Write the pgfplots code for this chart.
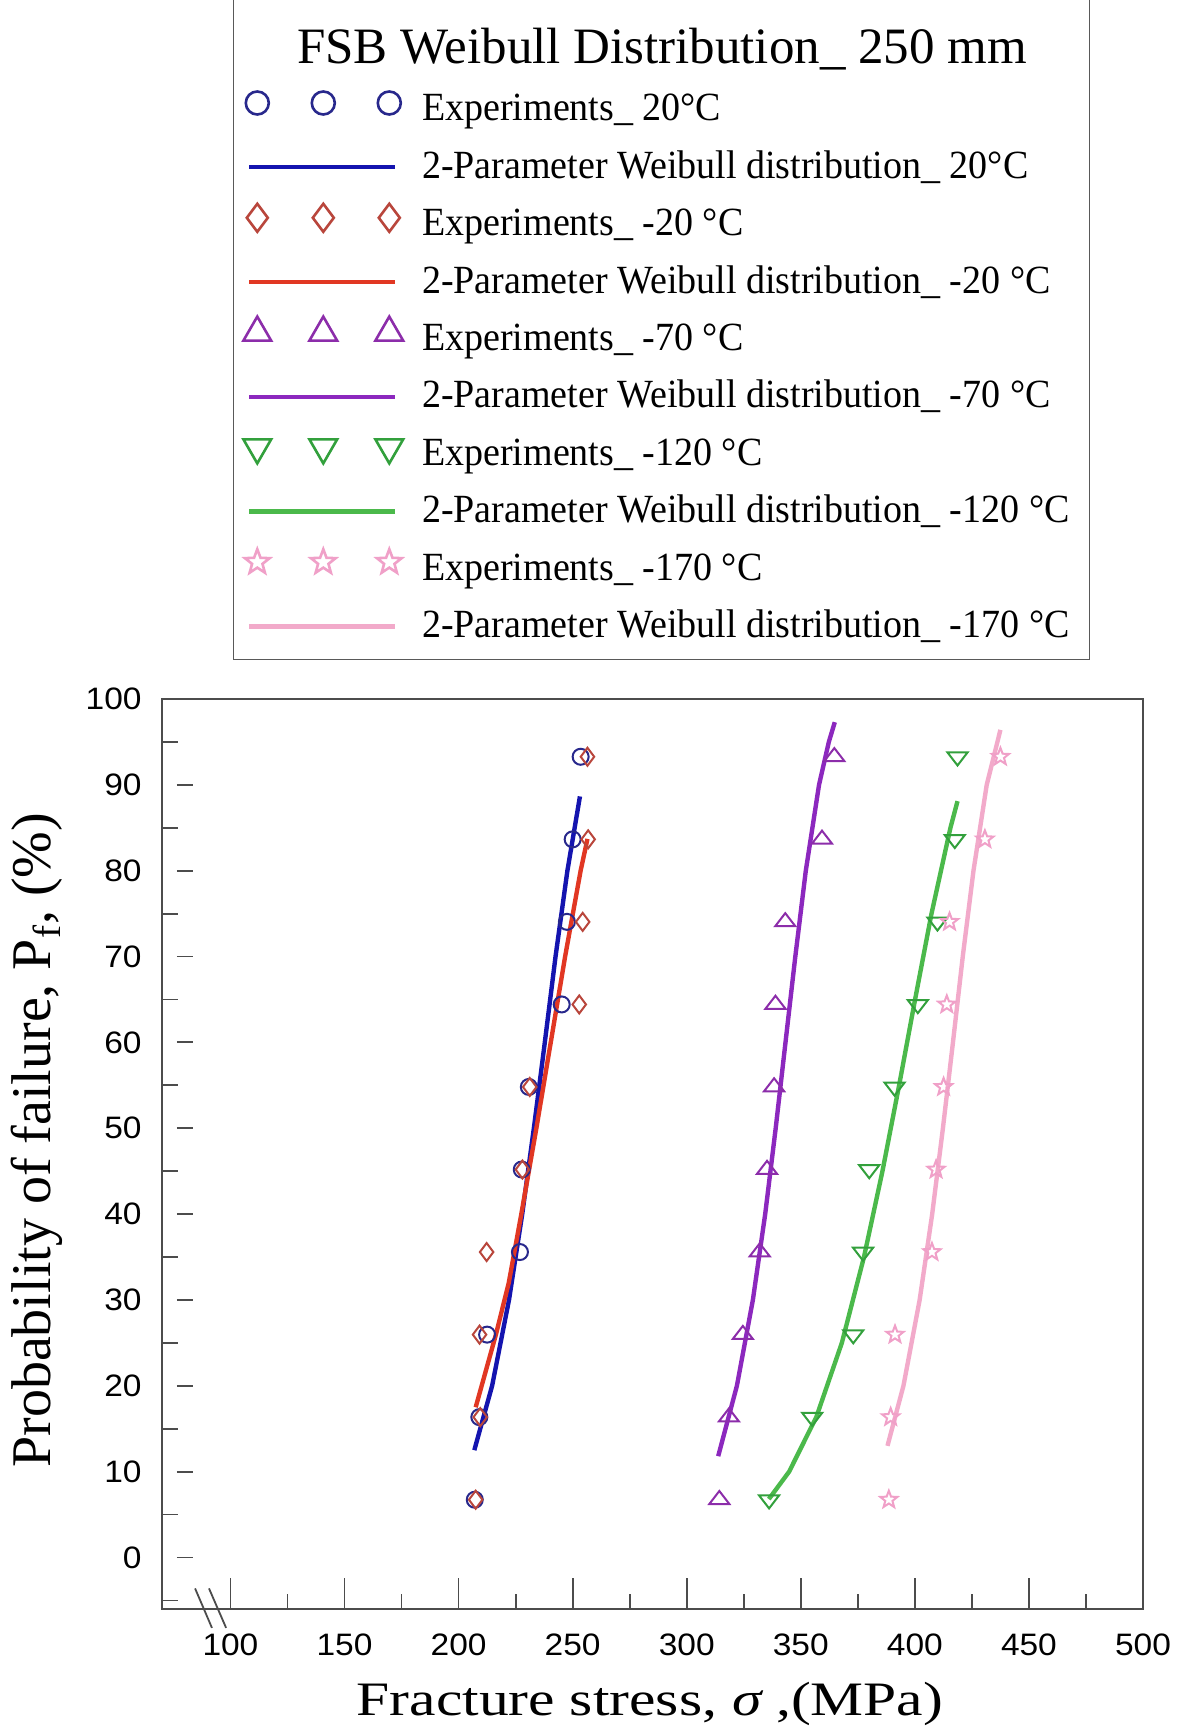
\documentclass[border=0pt]{standalone}
\usepackage{fontspec}
\setmainfont{Liberation Serif}
\newfontfamily\legfont[FakeStretch=0.95]{Liberation Serif}
\newfontfamily\tickfont[FakeStretch=1.08]{Liberation Sans}
\newfontfamily\xlabfont[FakeStretch=1.24]{Liberation Serif}
\usepackage{pgfplots}
\pgfplotsset{compat=1.18}
\definecolor{cA}{RGB}{40,40,140}
\definecolor{lA}{RGB}{20,20,175}
\definecolor{cB}{RGB}{185,70,60}
\definecolor{lB}{RGB}{225,55,35}
\definecolor{cC}{RGB}{140,45,170}
\definecolor{lC}{RGB}{140,40,190}
\definecolor{cD}{RGB}{50,160,60}
\definecolor{lD}{RGB}{75,185,75}
\definecolor{cE}{RGB}{240,160,200}
\definecolor{lE}{RGB}{242,170,202}
\newcommand\st{\rule{0pt}{20pt}}
\pgfdeclareplotmark{ostar}{%
  \pgfpathmoveto{\pgfpointpolar{90}{\pgfplotmarksize}}%
  \pgfpathlineto{\pgfpointpolar{126}{0.42\pgfplotmarksize}}%
  \pgfpathlineto{\pgfpointpolar{162}{\pgfplotmarksize}}%
  \pgfpathlineto{\pgfpointpolar{198}{0.42\pgfplotmarksize}}%
  \pgfpathlineto{\pgfpointpolar{234}{\pgfplotmarksize}}%
  \pgfpathlineto{\pgfpointpolar{270}{0.42\pgfplotmarksize}}%
  \pgfpathlineto{\pgfpointpolar{306}{\pgfplotmarksize}}%
  \pgfpathlineto{\pgfpointpolar{342}{0.42\pgfplotmarksize}}%
  \pgfpathlineto{\pgfpointpolar{18}{\pgfplotmarksize}}%
  \pgfpathlineto{\pgfpointpolar{54}{0.42\pgfplotmarksize}}%
  \pgfpathclose\pgfusepathqstroke}
\pgfplotsset{
  legmk/.style={legend image code/.code={\draw[##1,#1] plot coordinates {(4pt,1.5pt) (37pt,1.5pt) (70pt,1.5pt)};}},
  legln/.style={legend image code/.code={\draw[##1] (0pt,-1.9pt) -- (73pt,-1.9pt);}},
}
\begin{document}
\begin{tikzpicture}
\begin{axis}[
  at={(0,0)}, anchor=south west,
  scale only axis, width=490.5pt, height=455pt,
  xmin=70, xmax=500, ymin=-6, ymax=100,
  xtick={100,150,...,500}, minor xtick={125,175,...,475},
  ytick={0,10,...,100}, minor ytick={-5,5,...,95},
  tick pos=left, tick align=inside,
  major tick length=15.5pt, minor tick length=7.5pt,
  major y tick style={xshift=7.5pt, /pgfplots/major tick length=8pt},
  minor y tick style={/pgfplots/minor tick length=8pt},
  tick style={draw=black!70, line width=0.9pt},
  axis line style={draw=black!70, line width=0.9pt},
  /pgf/number format/assume math mode=true,
  xticklabel style={font=\tickfont\fontsize{15.5}{18}\selectfont, inner sep=0pt, yshift=-12pt},
  yticklabel style={font=\tickfont\fontsize{15.5}{18}\selectfont, inner sep=0pt, xshift=-10pt},
  xlabel={\xlabfont\fontsize{24}{28}\selectfont Fracture stress, {\itshape σ} ,(MPa)},
  xlabel style={at={(axis description cs:0.4975,-0.1165)}, anchor=base, inner sep=0pt},
  ylabel={\fontsize{28}{32}\selectfont Probability of failure, P\textsubscript{f}, (\%)},
  ylabel style={at={(axis description cs:-0.114,0.515)}, anchor=base, inner sep=0pt},
  clip=false,
  legend cell align=left,
  legend style={at={(axis description cs:0.0724,1)}, anchor=south west, yshift=19.5pt,
    draw=black!65, fill=white, inner xsep=5pt, inner ysep=6pt, row sep=3.7pt,
    nodes={inner sep=0pt, text depth=5pt, font=\legfont\fontsize{20}{24}\selectfont},
    /tikz/every odd column/.append style={column sep=9.5pt}},
]
\addlegendimage{empty legend}
\addlegendentry{\hspace*{-62.5pt}\rmfamily\fontsize{25.5}{30}\selectfont FSB Weibull Distribution\_ 250 mm\rule{0pt}{26.5pt}}

\addplot[only marks, mark=o, color=cA, mark size=4pt, line width=1pt, legmk={mark size=5.75pt, line width=1.3pt}]
 coordinates {(207.1,6.73) (209.1,16.35) (212.5,25.96) (226.9,35.58) (227.7,45.19) (230.8,54.81) (245.2,64.42) (247.5,74.04) (250.0,83.65) (253.5,93.27)};
\addlegendentry{Experiments\_ 20°C\st}
\addplot[no marks, color=lA, line width=2.2pt, legln]
 coordinates {(206.9,12.5) (214.7,20) (222.1,30) (227.9,40) (233.0,50) (237.8,60) (242.5,70) (247.7,80) (253.2,88.65)};
\addlegendentry{2-Parameter Weibull distribution\_ 20°C\st}

\addplot[only marks, mark=diamond, color=cB, mark size=4.5pt, line width=1pt, legmk={mark size=7pt, line width=1.3pt}]
 coordinates {(207.5,6.73) (209.5,16.35) (209.2,25.96) (212.3,35.58) (228.0,45.19) (231.2,54.81) (252.9,64.42) (254.4,74.04) (256.8,83.65) (256.5,93.27)};
\addlegendentry{Experiments\_ -20 °C\st}
\addplot[no marks, color=lB, line width=2.2pt, legln]
 coordinates {(207.5,17.5) (216.4,26) (222.0,32) (227.5,40) (234.1,50) (240.4,60) (246.7,70) (253.5,80) (256.5,83.7)};
\addlegendentry{2-Parameter Weibull distribution\_ -20 °C\st}

\addplot[only marks, mark=triangle, color=cC, mark size=5.8pt, line width=1pt, mark options={yscale=0.75}, legmk={mark size=8pt, line width=1.3pt, mark options={}}]
 coordinates {(314.3,6.73) (318.5,16.35) (324.6,25.96) (332.0,35.58) (335.2,45.19) (338.3,54.81) (338.9,64.42) (343.2,74.04) (359.3,83.65) (364.7,93.27)};
\addlegendentry{Experiments\_ -70 °C\st}
\addplot[no marks, color=lC, line width=2.2pt, legln]
 coordinates {(313.8,11.8) (322.0,20) (329.0,30) (334.4,40) (339.0,50) (343.3,60) (347.6,70) (352.2,80) (358.0,90) (362.3,95) (364.9,97.3)};
\addlegendentry{2-Parameter Weibull distribution\_ -70 °C\st}

\addplot[only marks, mark=triangle, color=cD, mark size=5.8pt, line width=1pt, mark options={rotate=180, yscale=0.75}, legmk={mark size=8pt, line width=1.3pt, mark options={rotate=180}}]
 coordinates {(336.1,6.73) (355.0,16.35) (373.0,25.96) (377.3,35.58) (380.0,45.19) (391.1,54.81) (401.3,64.42) (409.9,74.04) (417.5,83.65) (418.7,93.27)};
\addlegendentry{Experiments\_ -120 °C\st}
\addplot[no marks, color=lD, line width=2.2pt, legln]
 coordinates {(336.0,6.8) (344.9,10) (356.8,16.35) (368.0,25) (377.7,35) (385.8,45) (393.1,55) (400.1,65) (407.3,75) (415.6,85) (418.7,88.1)};
\addlegendentry{2-Parameter Weibull distribution\_ -120 °C\hspace*{5pt}\st}

\addplot[only marks, mark=ostar, color=cE, mark size=4.5pt, line width=1pt, legmk={mark size=6.5pt, line width=1.3pt}]
 coordinates {(388.6,6.73) (389.4,16.35) (391.3,25.96) (407.5,35.58) (409.3,45.19) (412.6,54.81) (414.0,64.42) (415.2,74.04) (430.7,83.65) (437.5,93.27)};
\addlegendentry{Experiments\_ -170 °C\st}
\addplot[no marks, color=lE, line width=2.2pt, legln]
 coordinates {(388.0,13) (395.0,20) (402.1,30) (407.6,40) (412.3,50) (416.7,60) (421.0,70) (425.7,80) (431.5,90) (437.5,96.4)};
\addlegendentry{2-Parameter Weibull distribution\_ -170 °C\hspace*{5pt}\st}

\draw[black!70, line width=0.9pt] (axis cs:84.5,-3.6) -- (axis cs:91.9,-8.2);
\draw[black!70, line width=0.9pt] (axis cs:90.6,-3.6) -- (axis cs:98.1,-8.2);
\end{axis}
\pgfresetboundingbox
\path[use as bounding box] (-81pt,-62.5pt) rectangle (509.5pt,804.5pt);
\end{tikzpicture}
\end{document}
